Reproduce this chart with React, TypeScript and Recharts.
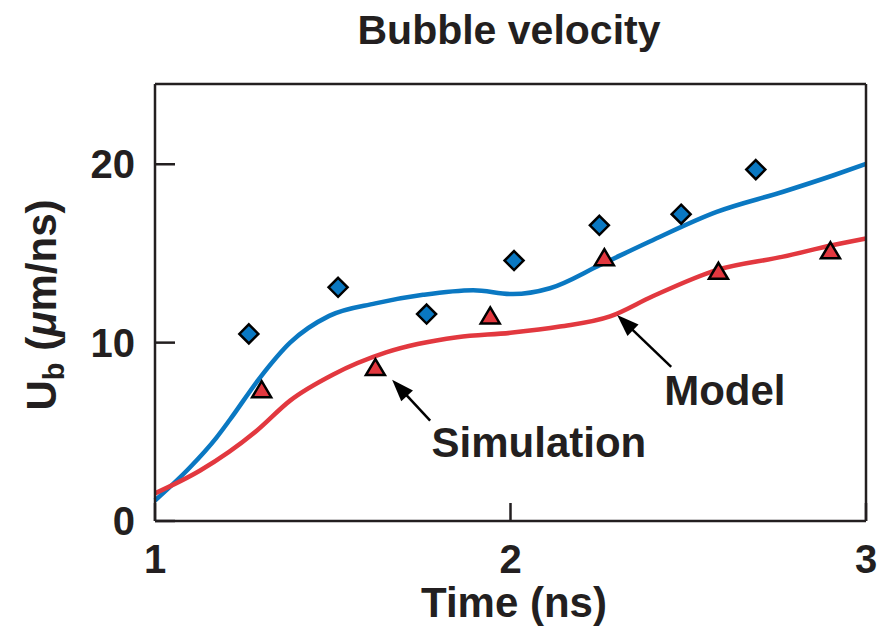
import React from 'react';
import {
  ComposedChart,
  Line,
  Scatter,
  XAxis,
  YAxis,
  ReferenceLine,
  ReferenceDot,
} from 'recharts';

// Model curves (time in ns, velocity in µm/ns)
const blueCurve = [
  { t: 1.0, v: 1.15 },
  { t: 1.098, v: 3.0 },
  { t: 1.173, v: 4.68 },
  { t: 1.211, v: 5.69 },
  { t: 1.295, v: 8.03 },
  { t: 1.38, v: 10.0 },
  { t: 1.49, v: 11.5 },
  { t: 1.62, v: 12.2 },
  { t: 1.754, v: 12.68 },
  { t: 1.895, v: 12.94 },
  { t: 2.007, v: 12.72 },
  { t: 2.111, v: 13.05 },
  { t: 2.252, v: 14.35 },
  { t: 2.392, v: 15.67 },
  { t: 2.58, v: 17.33 },
  { t: 2.767, v: 18.46 },
  { t: 2.907, v: 19.37 },
  { t: 3.0, v: 20.02 },
];

const redCurve = [
  { t: 1.0, v: 1.55 },
  { t: 1.127, v: 2.83 },
  { t: 1.286, v: 5.06 },
  { t: 1.38, v: 6.75 },
  { t: 1.5, v: 8.2 },
  { t: 1.65, v: 9.45 },
  { t: 1.85, v: 10.3 },
  { t: 2.0, v: 10.55 },
  { t: 2.139, v: 10.9 },
  { t: 2.28, v: 11.47 },
  { t: 2.4, v: 12.6 },
  { t: 2.58, v: 14.07 },
  { t: 2.767, v: 14.82 },
  { t: 2.908, v: 15.47 },
  { t: 3.0, v: 15.84 },
];

// Point data
const diamondPoints = [
  { t: 1.264, v: 10.49 },
  { t: 1.515, v: 13.1 },
  { t: 1.764, v: 11.6 },
  { t: 2.01, v: 14.6 },
  { t: 2.25, v: 16.58 },
  { t: 2.48, v: 17.2 },
  { t: 2.69, v: 19.7 },
];

const trianglePoints = [
  { t: 1.3, v: 7.36 },
  { t: 1.62, v: 8.6 },
  { t: 1.943, v: 11.5 },
  { t: 2.264, v: 14.76 },
  { t: 2.585, v: 14.0 },
  { t: 2.9, v: 15.15 },
];

const xTicks = [1, 2, 3];
const yTicks = [0, 10, 20];

// Annotation arrows: tail -> tip
const simulationArrow = [{ x: 1.774, y: 5.63 }, { x: 1.667, y: 7.92 }];
const modelArrow = [{ x: 2.452, y: 8.64 }, { x: 2.3, y: 11.55 }];
const simulationText = { t: 2.08, v: 4.43, text: 'Simulation' };
const modelText = { t: 2.603, v: 7.33, text: 'Model' };

const INK = '#231f20';
const BLUE = '#0a78c2';
const RED = '#e2383f';
const FONT = '"Liberation Sans", Arial, Helvetica, sans-serif';

const tickStyle = { fontSize: 40, fontWeight: 700, fill: INK, fontFamily: FONT };

const Diamond = (props: any) => {
  const { cx, cy } = props;
  const r = 9.5;
  return (
    <polygon
      points={`${cx},${cy - r} ${cx + r},${cy} ${cx},${cy + r} ${cx - r},${cy}`}
      fill={BLUE}
      stroke="#000"
      strokeWidth={2.5}
    />
  );
};

const Triangle = (props: any) => {
  const { cx, cy } = props;
  return (
    <polygon
      points={`${cx},${cy - 8.5} ${cx + 9.5},${cy + 7.5} ${cx - 9.5},${cy + 7.5}`}
      fill={RED}
      stroke="#000"
      strokeWidth={2.5}
    />
  );
};

const Arrow = (props: any) => {
  const { x1, y1, x2, y2 } = props;
  const dx = x2 - x1;
  const dy = y2 - y1;
  const len = Math.sqrt(dx * dx + dy * dy);
  const ux = dx / len;
  const uy = dy / len;
  const headLen = 22;
  const headW = 8;
  const bx = x2 - ux * headLen;
  const by = y2 - uy * headLen;
  return (
    <g>
      <line x1={x1} y1={y1} x2={bx + ux * 2} y2={by + uy * 2} stroke="#000" strokeWidth={2.5} />
      <polygon
        points={`${x2},${y2} ${bx - uy * headW},${by + ux * headW} ${bx + uy * headW},${by - ux * headW}`}
        fill="#000"
      />
    </g>
  );
};

const annotationLabel = (text: string) => (props: any) => {
  const { viewBox } = props;
  return (
    <text
      x={viewBox.x}
      y={viewBox.y + 15}
      textAnchor="middle"
      fontSize={42}
      fontWeight={700}
      fill={INK}
      fontFamily={FONT}
    >
      {text}
    </text>
  );
};

const titleLabel = () => (
  <text x={509} y={44} textAnchor="middle" fontSize={41} fontWeight={700} fill={INK} fontFamily={FONT}>
    Bubble velocity
  </text>
);

const xAxisLabel = () => (
  <text x={514} y={617} textAnchor="middle" fontSize={42} fontWeight={700} fill={INK} fontFamily={FONT}>
    Time (ns)
  </text>
);

const yAxisLabel = () => (
  <text
    x={56}
    y={305}
    transform="rotate(-90 56 305)"
    textAnchor="middle"
    fontSize={42}
    fontWeight={700}
    fill={INK}
    fontFamily={FONT}
  >
    U
    <tspan fontSize={29} dy={8}>b</tspan>
    <tspan dy={-8}> (</tspan>
    <tspan fontStyle="italic">μ</tspan>
    <tspan>m/ns)</tspan>
  </text>
);

const axisLine = { stroke: INK, strokeWidth: 2.5 };
const tickLine = { stroke: INK, strokeWidth: 2.5 };

export default function App() {
  return (
    <div style={{ position: 'absolute', left: 0, top: 0, background: '#fff' }}>
      <ComposedChart width={888} height={638} margin={{ top: 0, right: 0, bottom: 0, left: 0 }}>
        <XAxis
          dataKey="t"
          type="number"
          domain={[1, 3]}
          ticks={xTicks}
          height={117}
          axisLine={axisLine}
          tickLine={tickLine}
          tickSize={-18}
          tickMargin={42}
          tick={tickStyle}
          label={xAxisLabel}
        />
        <XAxis
          xAxisId="top"
          orientation="top"
          dataKey="t"
          type="number"
          domain={[1, 3]}
          ticks={[2]}
          height={84}
          axisLine={axisLine}
          tickLine={tickLine}
          tickSize={-19}
          tickFormatter={() => ''}
          label={titleLabel}
        />
        <YAxis
          type="number"
          domain={[0, 24.5]}
          ticks={yTicks}
          width={155}
          axisLine={axisLine}
          tickLine={tickLine}
          tickSize={-20}
          tickMargin={40}
          tick={tickStyle}
          label={yAxisLabel}
        />
        <YAxis
          yAxisId="right"
          orientation="right"
          type="number"
          domain={[0, 24.5]}
          ticks={[10, 20]}
          width={22}
          axisLine={axisLine}
          tickLine={tickLine}
          tickSize={-20}
          tickFormatter={() => ''}
        />
        <Line
          data={blueCurve}
          dataKey="v"
          type="monotone"
          stroke={BLUE}
          strokeWidth={4.5}
          dot={false}
          activeDot={false}
          isAnimationActive={false}
        />
        <Line
          data={redCurve}
          dataKey="v"
          type="monotone"
          stroke={RED}
          strokeWidth={4.5}
          dot={false}
          activeDot={false}
          isAnimationActive={false}
        />
        <Scatter data={diamondPoints} dataKey="v" shape={Diamond} isAnimationActive={false} />
        <Scatter data={trianglePoints} dataKey="v" shape={Triangle} isAnimationActive={false} />
        <ReferenceLine segment={simulationArrow} shape={Arrow} />
        <ReferenceLine segment={modelArrow} shape={Arrow} />
        <ReferenceDot
          x={simulationText.t}
          y={simulationText.v}
          r={0}
          fill="none"
          stroke="none"
          label={annotationLabel(simulationText.text)}
        />
        <ReferenceDot
          x={modelText.t}
          y={modelText.v}
          r={0}
          fill="none"
          stroke="none"
          label={annotationLabel(modelText.text)}
        />
      </ComposedChart>
    </div>
  );
}
